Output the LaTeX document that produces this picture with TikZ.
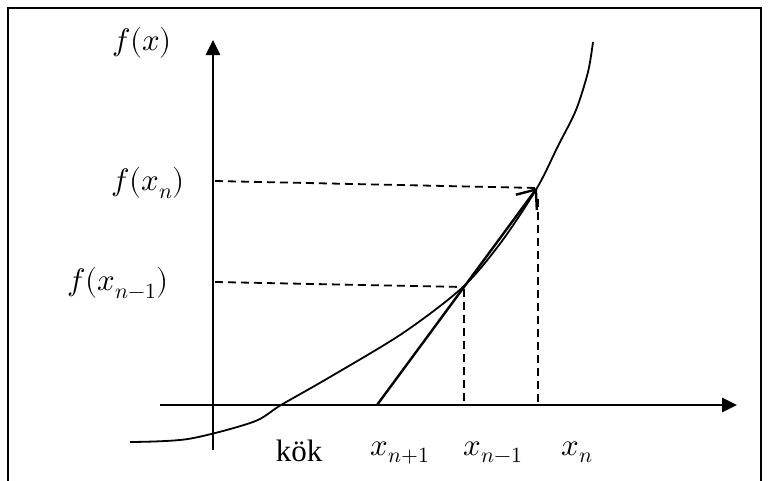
\documentclass[tikz,border=0pt]{standalone}
\usetikzlibrary{arrows.meta}
\usepackage{fontspec}
\usepackage{unicode-math}
\setmainfont{Liberation Serif}
\setmathfont{Latin Modern Math}
\tikzset{
  lbl/.style={font=\fontsize{31}{36}\selectfont, inner sep=0pt},
  axis/.style={line width=2.8pt, -{Triangle[length=15pt,width=14pt]}},
  guide/.style={line width=1.8pt, dash pattern=on 8pt off 5pt},
  secant/.style={line width=2.4pt, -{Straight Barb[length=16pt,width=26pt]}}
}
\begin{document}
\begin{tikzpicture}[x=1pt,y=-1pt]
\useasboundingbox (0,0) rectangle (769,480);
\draw[line width=2.5pt] (8,482) -- (8,8) -- (761,8) -- (761,482);
% axes
\coordinate (xs) at (160,405);
\coordinate (xe) at (737,405);
\coordinate (yb) at (213,450);
\coordinate (ye) at (213,40);
\draw[axis] (xs) -- (xe);
\draw[axis] (yb) -- (ye);
% points on the curve
\coordinate (pm) at (463,287);
\coordinate (pn) at (537,188);
\coordinate (root) at (281,405);
\coordinate (xn1) at (377,405);
\draw[line width=1.8pt] plot[smooth, tension=0.5] coordinates {(130,442) (188,439) (253,422) (root) (330,377) (403,333) (pm) (502,241) (pn) (558,146) (576,110) (588,72) (593,42)};
% guides
\coordinate (fn) at (215,181);
\coordinate (fm) at (215,282);
\coordinate (an) at (538,405);
\coordinate (am) at (464,405);
\draw[guide] (fn) -- (pn);
\draw[guide] (fm) -- (pm);
\draw[guide] (538,199) -- (an);
\draw[guide] (464,289) -- (am);
% secant
\draw[secant] (xn1) -- (pn);
% labels
\node[lbl] (ly) at (142,43) {$f(x)$};
\node[lbl] (lfn) at (148,183) {$f(x_n)$};
\node[lbl] (lfm) at (118,283) {$f(x_{n-1})$};
\node[lbl, anchor=base] (lk) at (299,461) {kök};
\node[lbl, anchor=base] (l1) at (400,455) {$x_{n+1}$};
\node[lbl, anchor=base] (l2) at (493,455) {$x_{n-1}$};
\node[lbl, anchor=base] (l3) at (577,455) {$x_n$};
\end{tikzpicture}
\end{document}
